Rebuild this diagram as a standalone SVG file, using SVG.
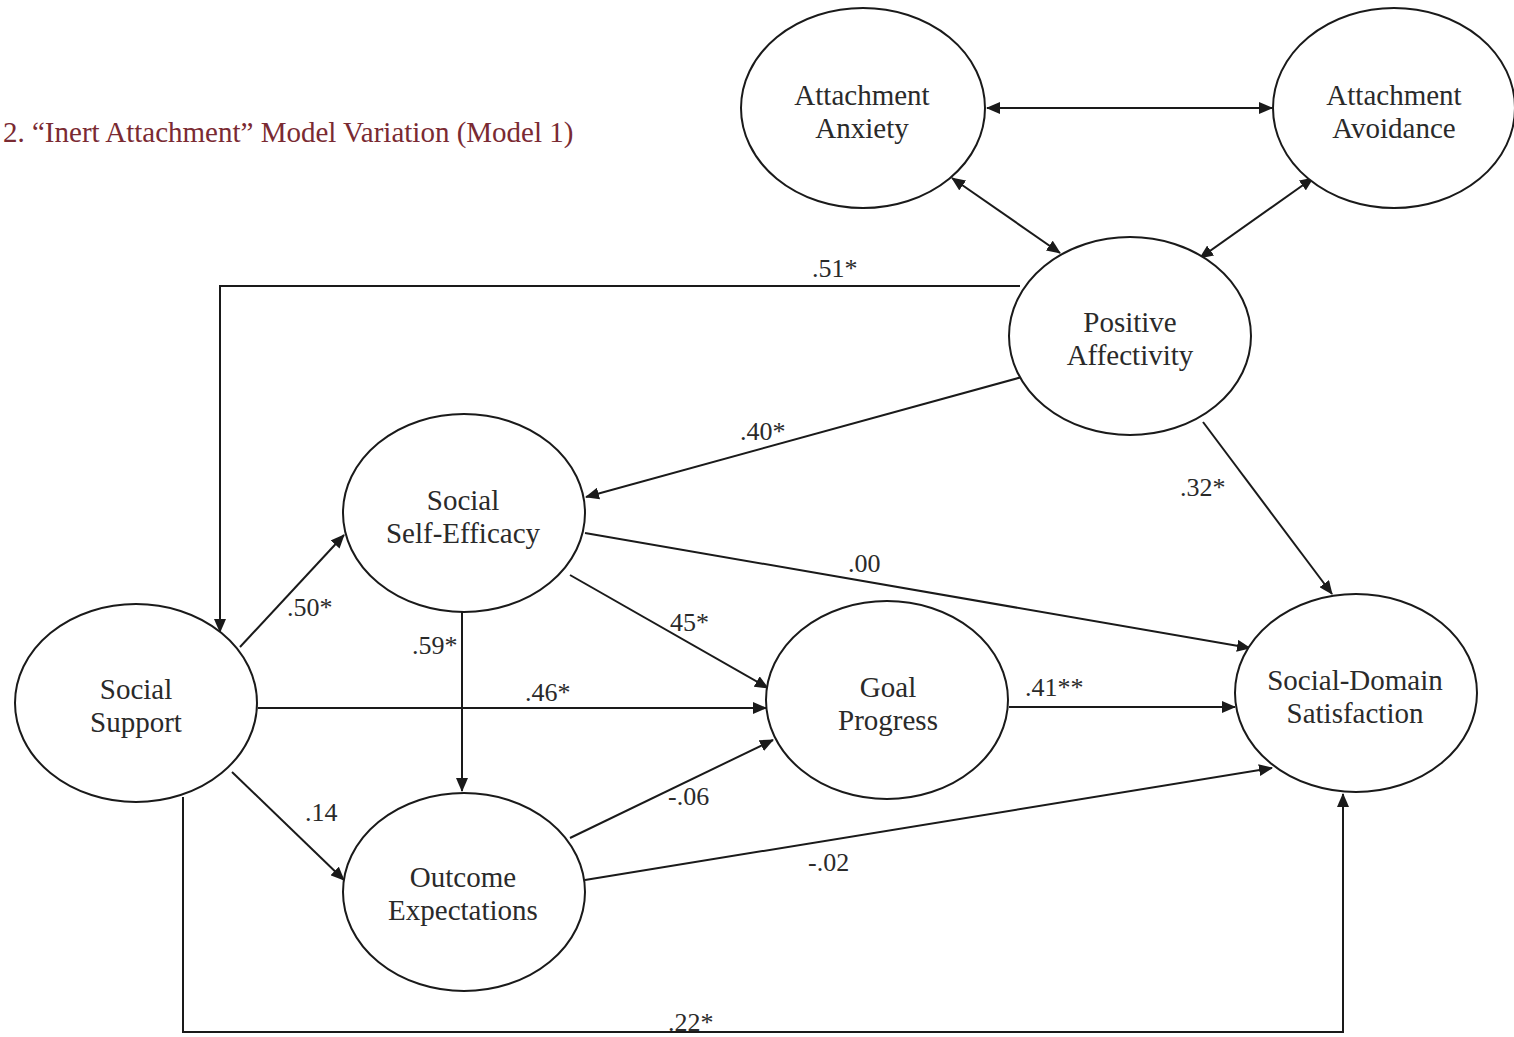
<svg xmlns="http://www.w3.org/2000/svg" width="1514" height="1037" viewBox="0 0 1514 1037">
<style>
.node ellipse{fill:#fff;stroke:#1a1a1a;stroke-width:2}
.node text{font-family:"Liberation Serif","Times New Roman",serif;font-size:29px;fill:#2a2a2a;text-anchor:middle}
.conn path,.conn line{fill:none;stroke:#1a1a1a;stroke-width:2}
.lbl{font-family:"Liberation Serif","Times New Roman",serif;font-size:26px;fill:#2a2a2a}
.title{font-family:"Liberation Serif","Times New Roman",serif;font-size:29px;fill:#7a2a32}
</style>
<defs>
<marker id="ah" markerUnits="userSpaceOnUse" markerWidth="14" markerHeight="12" refX="13" refY="6" orient="auto-start-reverse">
<path d="M0,0 L14,6 L0,12 Z" fill="#1a1a1a"/>
</marker>
</defs>
<rect width="1514" height="1037" fill="#fff"/>
<text class="title" x="3" y="142">2. “Inert Attachment” Model Variation (Model 1)</text>
<g class="conn">
<line x1="987" y1="108" x2="1272" y2="108" marker-start="url(#ah)" marker-end="url(#ah)"/>
<line x1="952" y1="178" x2="1060" y2="253" marker-start="url(#ah)" marker-end="url(#ah)"/>
<line x1="1313" y1="178" x2="1200" y2="258" marker-start="url(#ah)" marker-end="url(#ah)"/>
<path d="M1020,286 L220,286 L220,632" marker-end="url(#ah)"/>
<line x1="1022" y1="377" x2="586" y2="497" marker-end="url(#ah)"/>
<line x1="1203" y1="422" x2="1332" y2="594" marker-end="url(#ah)"/>
<line x1="585" y1="533" x2="1250" y2="648" marker-end="url(#ah)"/>
<line x1="570" y1="575" x2="768" y2="688" marker-end="url(#ah)"/>
<line x1="462" y1="612" x2="462" y2="791" marker-end="url(#ah)"/>
<line x1="240" y1="647" x2="344" y2="535" marker-end="url(#ah)"/>
<line x1="258" y1="708" x2="766" y2="708" marker-end="url(#ah)"/>
<line x1="232" y1="772" x2="344" y2="880" marker-end="url(#ah)"/>
<line x1="570" y1="838" x2="773" y2="740" marker-end="url(#ah)"/>
<line x1="585" y1="880" x2="1272" y2="768" marker-end="url(#ah)"/>
<line x1="1009" y1="707" x2="1235" y2="707" marker-end="url(#ah)"/>
<path d="M183,797 L183,1032 L1343,1032 L1343,794" marker-end="url(#ah)"/>
</g>
<g id="anxiety" class="node"><ellipse cx="863" cy="108" rx="122" ry="100"/><text x="862" y="105">Attachment</text><text x="862" y="138">Anxiety</text></g>
<g id="avoidance" class="node"><ellipse cx="1394" cy="108" rx="121" ry="100"/><text x="1394" y="105">Attachment</text><text x="1394" y="138">Avoidance</text></g>
<g id="positive" class="node"><ellipse cx="1130" cy="336" rx="121" ry="99"/><text x="1130" y="332">Positive</text><text x="1130" y="365">Affectivity</text></g>
<g id="selfefficacy" class="node"><ellipse cx="464" cy="513" rx="121" ry="99"/><text x="463" y="510">Social</text><text x="463" y="543">Self-Efficacy</text></g>
<g id="support" class="node"><ellipse cx="136" cy="703" rx="121" ry="99"/><text x="136" y="699">Social</text><text x="136" y="732">Support</text></g>
<g id="goal" class="node"><ellipse cx="887" cy="700" rx="121" ry="99"/><text x="888" y="697">Goal</text><text x="888" y="730">Progress</text></g>
<g id="satisfaction" class="node"><ellipse cx="1356" cy="693" rx="121" ry="99"/><text x="1355" y="690">Social-Domain</text><text x="1355" y="723">Satisfaction</text></g>
<g id="outcome" class="node"><ellipse cx="464" cy="892" rx="121" ry="99"/><text x="463" y="887">Outcome</text><text x="463" y="920">Expectations</text></g>
<g id="labels">
<text class="lbl" x="812" y="277">.51*</text>
<text class="lbl" x="740" y="440">.40*</text>
<text class="lbl" x="1180" y="496">.32*</text>
<text class="lbl" x="848" y="572">.00</text>
<text class="lbl" x="670" y="631">45*</text>
<text class="lbl" x="287" y="616">.50*</text>
<text class="lbl" x="412" y="654">.59*</text>
<text class="lbl" x="525" y="701">.46*</text>
<text class="lbl" x="1025" y="696">.41**</text>
<text class="lbl" x="305" y="821">.14</text>
<text class="lbl" x="668" y="805">-.06</text>
<text class="lbl" x="808" y="871">-.02</text>
<text class="lbl" x="668" y="1031">.22*</text>
</g>
</svg>
